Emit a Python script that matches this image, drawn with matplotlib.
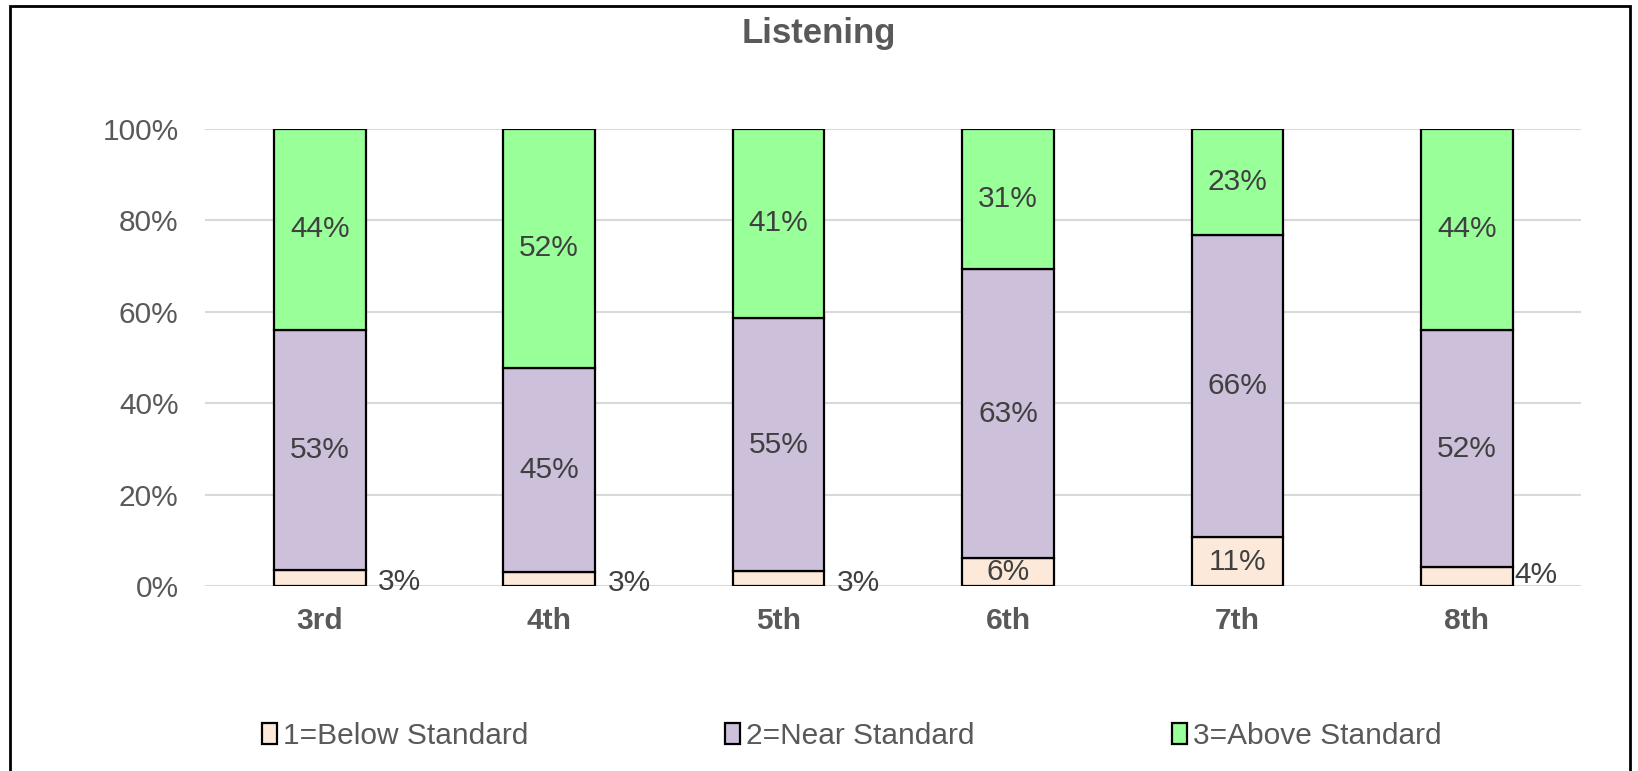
import matplotlib.pyplot as plt
from matplotlib.patches import Rectangle
from matplotlib.ticker import PercentFormatter

plt.rcParams['font.family'] = ['Liberation Sans', 'DejaVu Sans']

# data (percent)
grades = ["3rd", "4th", "5th", "6th", "7th", "8th"]
below = [3.4, 3.0, 3.2, 6.2, 10.7, 4.1]
near = [52.6, 44.7, 55.4, 63.0, 66.0, 51.8]
above = [44.0, 52.3, 41.4, 30.8, 23.3, 44.1]
series_names = ["1=Below Standard", "2=Near Standard", "3=Above Standard"]

colors = ["#FDE9D9", "#CCC0DA", "#99FF99"]
txt = "#404040"
tick_col = "#595959"
fs = 21.5

fig = plt.figure(figsize=(16.38, 7.71), dpi=100)
ax = fig.add_axes([0.1252, 0.2399, 0.8403, 0.5934])

x = list(range(len(grades)))
w = 0.40
bottoms = [0.0] * len(grades)
for vals, col, name in zip([below, near, above], colors, series_names):
    ax.bar(x, vals, width=w, bottom=bottoms, color=col, edgecolor="black",
           linewidth=1.6, label=name, zorder=3)
    bottoms = [b + v for b, v in zip(bottoms, vals)]

# labels for near/above in the middle of their segment
for i in x:
    ax.text(i, below[i] + near[i] / 2, f"{round(near[i])}%", ha="center",
            va="center", fontsize=fs, color=txt, zorder=4)
    ax.text(i, below[i] + near[i] + above[i] / 2, f"{round(above[i])}%",
            ha="center", va="center", fontsize=fs, color=txt, zorder=4)

# below-standard labels: inside when the bar is tall enough, else to the right
for i in x:
    lab = f"{round(below[i])}%"
    if below[i] > 5:
        ax.text(i, below[i] / 2, lab, ha="center", va="center", fontsize=fs,
                color=txt, zorder=4)
    else:
        dx = 1 if i == 5 else 9
        dy = 1 if i == 5 else -3
        ax.annotate(lab, xy=(i + w / 2, below[i] / 2), xytext=(dx, dy),
                    textcoords="offset points", ha="left", va="center",
                    fontsize=fs, color=txt, zorder=4)

ax.set_xlim(-0.5, len(grades) - 0.5)
ax.set_ylim(0, 100)
ax.set_yticks([0, 20, 40, 60, 80, 100])
ax.yaxis.set_major_formatter(PercentFormatter(decimals=0))
ax.set_xticks(x)
ax.set_xticklabels(grades, fontweight="bold")
ax.tick_params(axis="both", length=0, labelsize=fs, colors=tick_col)
ax.tick_params(axis="x", pad=15)
ax.tick_params(axis="y", pad=19)
ax.grid(axis="y", color="#D9D9D9", linewidth=1.5, zorder=0)
for s in ax.spines.values():
    s.set_visible(False)

fig.text(0.5, 0.957, "Listening", ha="center", va="center", fontsize=25,
         fontweight="bold", color=tick_col)

leg = fig.legend(loc="center", bbox_to_anchor=(0.52, 0.046), ncol=3,
                 frameon=False, fontsize=fs, handlelength=0.5,
                 handleheight=0.7, handletextpad=0.2, columnspacing=6.6,
                 labelcolor=tick_col)

# chart border
fig.patches.append(Rectangle((10 / 1638, -0.05), 1620 / 1638, 1.05 - 6 / 771,
                             transform=fig.transFigure, fill=False,
                             edgecolor="black", linewidth=2))

fig.savefig("out.png", dpi=100)
